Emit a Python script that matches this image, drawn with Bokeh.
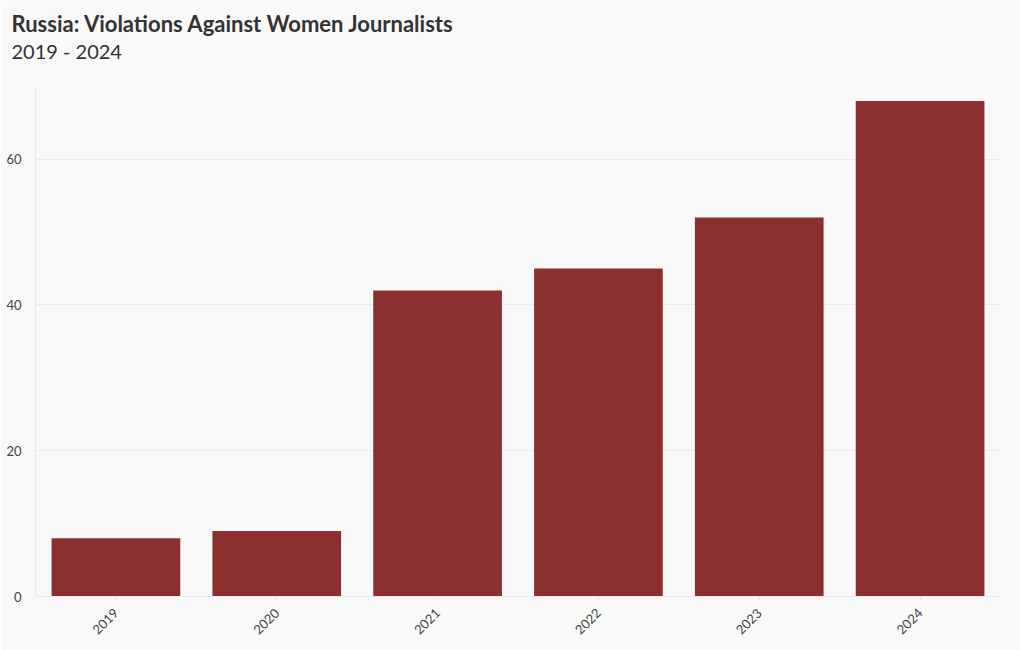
from bokeh.plotting import figure
from bokeh.models import ColumnDataSource, Range1d, FactorRange, Title
from bokeh.embed import file_html
from bokeh.resources import INLINE
import math

years = ["2019", "2020", "2021", "2022", "2023", "2024"]
violations = [8, 9, 42, 45, 52, 68]
y_ticks = [0, 20, 40, 60]
title_text = "Russia: Violations Against Women Journalists"
subtitle_text = "2019 - 2024"

BG = "#f9f9f9"
FONT = "Lato"

src = ColumnDataSource(dict(year=years, value=violations))

p = figure(
    width=1020, height=650,
    x_range=FactorRange(*years, range_padding=0),
    y_range=Range1d(0, 69.7),
    output_backend="svg", toolbar_location=None,
    background_fill_color=BG, border_fill_color=BG,
    min_border_left=35, min_border_right=20, min_border_bottom=54, min_border_top=88,
    outline_line_color=None,
)

p.vbar(x="year", top="value", width=0.8, source=src,
       fill_color="#8b2f2f", line_color=None)

# spacer between subtitle and plot area
spacer = Title(text=" ", text_font_size="1px", standoff=23, offset=-24)
sub = Title(text=subtitle_text, text_font=FONT, text_font_size="20px",
            text_font_style="normal", text_color="#333333", offset=-24, standoff=0)
main = Title(text=title_text, text_font=FONT,
             text_font_size="22px", text_font_style="bold", text_color="#333333",
             offset=-24, standoff=0)
p.add_layout(spacer, "above")
p.add_layout(sub, "above")
p.add_layout(main, "above")

p.xgrid.grid_line_color = None
p.ygrid.grid_line_color = "#ececec"
p.yaxis.ticker = y_ticks

for ax in (p.xaxis, p.yaxis):
    ax.axis_line_color = "#e8e8e8"
    ax.major_label_text_font = FONT
    ax.major_label_text_font_size = "13px"
    ax.major_label_text_color = "#444444"
    ax.minor_tick_line_color = None

p.yaxis.major_tick_line_color = None
p.yaxis.major_label_standoff = 8
p.xaxis.major_tick_line_color = "#e8e8e8"
p.xaxis.major_tick_out = 5
p.xaxis.major_tick_in = 0
p.xaxis.major_label_orientation = math.pi / 4
p.xaxis.major_label_standoff = 9

open("out.html", "w").write(file_html(p, INLINE))
